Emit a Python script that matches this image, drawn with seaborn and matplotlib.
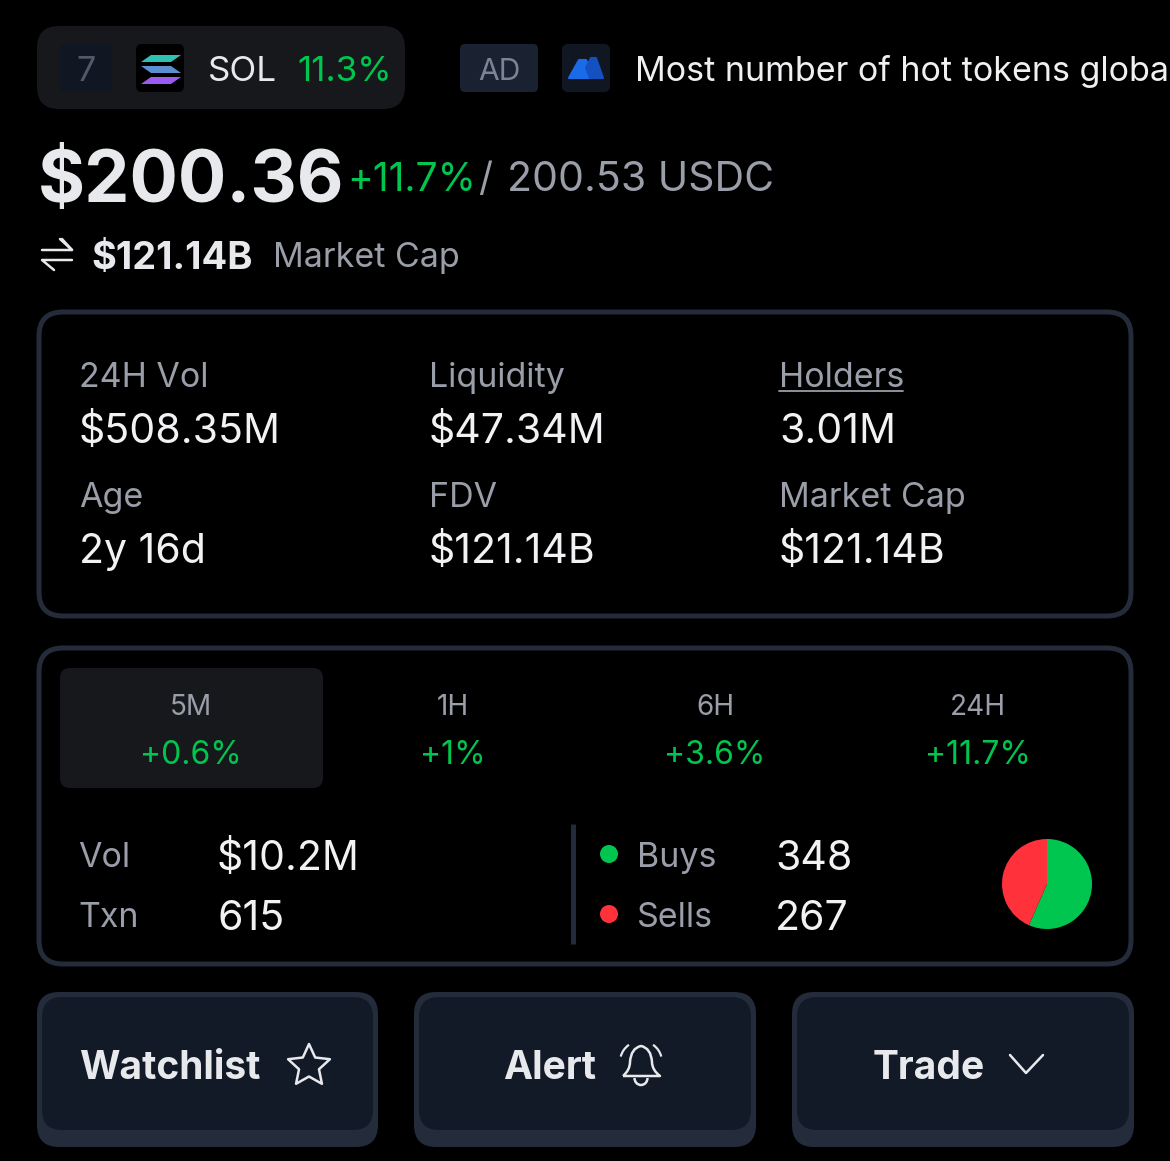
import numpy as np
import pandas as pd
import matplotlib
matplotlib.use("Agg")
import matplotlib.pyplot as plt
from matplotlib.patches import FancyBboxPatch, Polygon, Arc, Circle, PathPatch
from matplotlib.path import Path
import seaborn as sns

# ---- data ----
trade_labels = ["Buys", "Sells"]
trade_counts = [348, 267]
trade_count_text = ["348", "267"]
stat_labels = ["24H Vol", "Liquidity", "Holders", "Age", "FDV", "Market Cap"]
stat_values = ["$508.35M", "$47.34M", "3.01M", "2y 16d", "$121.14B", "$121.14B"]
period_labels = ["5M", "1H", "6H", "24H"]
period_changes = ["+0.6%", "+1%", "+3.6%", "+11.7%"]
button_labels = ["Watchlist", "Alert", "Trade"]

BG = "#000000"; CARD = "#17181c"; EDGE = "#242b3a"; BTN = "#131a27"
WHITE = "#e8e9ed"; GREY = "#9a9ea9"; GREEN = "#00c64f"; RED = "#ff323c"
FONT = "Inter"

sns.set_theme(style="dark", rc={"figure.facecolor": BG, "axes.facecolor": BG})
plt.rcParams["font.family"] = [FONT, "DejaVu Sans"]

W, H = 1170, 1161
fig = plt.figure(figsize=(W / 100, H / 100), dpi=100, facecolor=BG)
ax = fig.add_axes([0, 0, 1, 1])
ax.set_xlim(0, W); ax.set_ylim(H, 0); ax.axis("off")
PX = 72 / 100


def box(x0, y0, x1, y1, r, fc, ec="none", lw=0, z=1):
    ax.add_patch(FancyBboxPatch((x0 + r, y0 + r), x1 - x0 - 2 * r, y1 - y0 - 2 * r,
                                boxstyle=f"round,pad={r},rounding_size={r}",
                                fc=fc, ec=ec, lw=lw * PX, zorder=z))


def txt(x, y, s, px, color=WHITE, ha="left", weight="normal", stretch=None):
    return ax.text(x, y, s, fontsize=px * PX, color=color, ha=ha, va="baseline",
                   fontweight=weight, zorder=5)


def line(xs, ys, color=WHITE, lw=2.5, z=5):
    ax.plot(xs, ys, color=color, lw=lw * PX, solid_capstyle="round",
            solid_joinstyle="round", zorder=z)


# top strip
box(37, 26, 405, 109, 22, CARD)
box(60, 44, 112, 92, 6, "#111722", z=2)
txt(86, 81, "7", 34, "#515a6a", ha="center")
box(136, 44, 184, 92, 6, "#000000", z=2)
for y0, col, flip in [(56, "#2fc0b4", 1), (67, "#5b8fd2", -1), (78, "#9a5cf0", 1)]:
    s = 5 * flip
    ax.add_patch(Polygon([[146 + s, y0 - 1], [176 + s, y0 - 1], [176 - s, y0 + 6],
                          [146 - s, y0 + 6]], fc=col, ec="none", zorder=4))
txt(208, 81, "SOL", 35)
txt(297, 81, "11.3%", 35, GREEN)
box(460, 44, 538, 92, 5, "#1a2231", z=2)
txt(499, 80, "AD", 30, "#7b8494", ha="center")
box(562, 44, 610, 92, 6, "#111722", z=2)
ax.add_patch(Polygon([[569, 78], [579, 60], [586, 60], [592, 72], [590, 78]],
                     fc="#1b6be8", ec="#1b6be8", lw=1.5, joinstyle="round", zorder=4))
ax.add_patch(Polygon([[586, 68], [591, 58], [596, 58], [603, 78], [590, 78]],
                     fc="#1450c0", ec="#1450c0", lw=1.5, joinstyle="round", zorder=4))
txt(635, 81, "Most number of hot tokens globally", 34, "#f0f0f2")

# price
txt(38, 202, "$200.36", 72, WHITE, weight="bold")
txt(347, 191, "+11.7%", 39, GREEN)
txt(478, 191, "/", 39, GREY)
txt(507, 191, "200.53 USDC", 41, GREY)

# exchange arrows
line([42, 72, 60], [250, 250, 239], lw=2.5)
line([72, 42, 54], [260, 260, 270], lw=2.5)
line([72, 62], [250, 239], lw=2.5)
txt(91, 269, "$121.14B", 38, WHITE, weight="bold")
txt(273, 267, "Market Cap", 34, GREY)

# stats card
box(39, 312, 1131, 616, 24, BG, EDGE, 5)
cols = [79, 429, 779]
for i, (lab, val) in enumerate(zip(stat_labels, stat_values)):
    x = cols[i % 3]
    yl, yv = (387, 443) if i < 3 else (507, 563)
    txt(x, yl, lab, 34, GREY)
    txt(x, yv, val, 41, "#f2f2f4")
line([779, 903], [391, 391], GREY, lw=1.8)

# period card
box(39, 648, 1131, 964, 24, BG, EDGE, 5)
box(60, 668, 323, 788, 10, CARD, z=2)
centers = [191, 453, 715, 978]
for c, lab, chg in zip(centers, period_labels, period_changes):
    txt(c, 715, lab, 28, GREY, ha="center")
    txt(c, 764, chg, 32, GREEN, ha="center")

txt(78, 867, "Vol", 34, GREY)
txt(217, 870, "$10.2M", 41, "#f2f2f4")
txt(78, 927, "Txn", 34, GREY)
txt(217, 930, "615", 41, "#f2f2f4")
ax.plot([573, 573], [824, 944], color=EDGE, lw=5 * PX, solid_capstyle="butt", zorder=3)

legend_df = pd.DataFrame({"label": trade_labels, "x": [609, 609], "y": [854, 914]})
sns.scatterplot(data=legend_df, x="x", y="y", hue="label",
                palette={"Buys": GREEN, "Sells": RED}, s=(18 * PX) ** 2,
                linewidth=0, legend=False, ax=ax, zorder=6)
ax.set_xlim(0, W); ax.set_ylim(H, 0); ax.axis("off")
for lab, cnt, yl, yv in zip(trade_labels, trade_count_text, [867, 927], [870, 930]):
    txt(637, yl, lab, 34, GREY)
    txt(775, yv, cnt, 41, "#f2f2f4")

# pie
cx, cy, r = 1047, 884, 45
pie_ax = fig.add_axes([(cx - r) / W, 1 - (cy + r) / H, 2 * r / W, 2 * r / H])
pie_ax.pie(trade_counts, colors=[GREEN, RED], startangle=90, counterclock=False,
           radius=1.0, wedgeprops={"linewidth": 0})
pie_ax.set_xlim(-1, 1); pie_ax.set_ylim(-1, 1)

# buttons
for x0, x1 in [(37, 378), (414, 756), (792, 1134)]:
    box(x0, 992, x1, 1147, 22, EDGE)
    box(x0 + 5, 997, x1 - 5, 1130, 20, BTN, z=2)
for x, lab in zip([79, 503, 873], button_labels):
    txt(x, 1079, lab, 39, WHITE, weight="bold")

# star
a = np.deg2rad(np.arange(10) * 36 - 90)
rad = np.where(np.arange(10) % 2 == 0, 22, 10.5)
ax.add_patch(Polygon(np.c_[309 + rad * np.cos(a), 1066 + rad * np.sin(a)], closed=True,
                     fc="none", ec=WHITE, lw=2.5 * PX, joinstyle="round", zorder=5))
# bell
bell = Path([(623, 1076), (630, 1070), (630, 1062), (631, 1048), (641, 1046), (651, 1048),
             (652, 1062), (652, 1070), (660, 1076), (623, 1076)],
            [Path.MOVETO, Path.CURVE3, Path.CURVE3, Path.CURVE3, Path.CURVE3, Path.CURVE3,
             Path.CURVE3, Path.CURVE3, Path.CURVE3, Path.LINETO])
ax.add_patch(PathPatch(bell, fc="none", ec=WHITE, lw=2.5 * PX, joinstyle="round", zorder=5))
ax.add_patch(Arc((641, 1078), 13, 14, theta1=0, theta2=180, ec=WHITE, lw=2.5 * PX, zorder=5))
ax.add_patch(Arc((641, 1062), 42, 42, theta1=195, theta2=235, ec=WHITE, lw=2.2 * PX, zorder=5))
ax.add_patch(Arc((641, 1062), 42, 42, theta1=305, theta2=345, ec=WHITE, lw=2.2 * PX, zorder=5))
# chevron
line([1010, 1026, 1043], [1055, 1073, 1055], lw=2.5)

fig.savefig("out.png", dpi=100, facecolor=BG)
